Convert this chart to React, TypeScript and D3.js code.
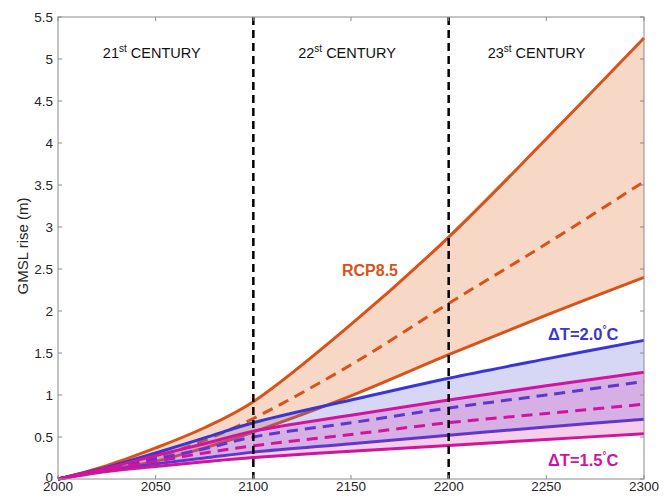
import React from 'react';
import * as d3 from 'd3';

// years sampled along the curves
const years = [2000, 2025, 2050, 2075, 2100, 2150, 2200, 2250, 2300];

// RCP8.5
const rcpUpper = [0, 0.16, 0.37, 0.61, 0.92, 1.84, 2.88, 4.05, 5.25];
const rcpMedian = [0, 0.12, 0.26, 0.46, 0.72, 1.36, 2.09, 2.8, 3.54];
const rcpLower = [0, 0.11, 0.21, 0.37, 0.56, 0.99, 1.48, 1.95, 2.4];

// dT = 2.0 C
const t20Upper = [0, 0.14, 0.31, 0.49, 0.67, 0.94, 1.2, 1.43, 1.65];
const t20Median = [0, 0.12, 0.24, 0.36, 0.5, 0.67, 0.845, 1.0, 1.16];
const t20Lower = [0, 0.1, 0.18, 0.25, 0.32, 0.42, 0.52, 0.62, 0.71];

// dT = 1.5 C
const t15Upper = [0, 0.13, 0.28, 0.42, 0.57, 0.76, 0.94, 1.11, 1.27];
const t15Median = [0, 0.11, 0.21, 0.31, 0.395, 0.53, 0.67, 0.78, 0.89];
const t15Lower = [0, 0.09, 0.15, 0.205, 0.255, 0.33, 0.4, 0.47, 0.54];

const xTicks = [2000, 2050, 2100, 2150, 2200, 2250, 2300];
const yTicks = [0, 0.5, 1, 1.5, 2, 2.5, 3, 3.5, 4, 4.5, 5, 5.5];
const centuryLines = [2100, 2200];
const centuries = [
  {label: '21', year: 2048},
  {label: '22', year: 2148},
  {label: '23', year: 2245},
];

const W = 671;
const H = 500;
const margin = {left: 58, right: 27, top: 17, bottom: 21};

const x = d3.scaleLinear().domain([2000, 2300]).range([margin.left, W - margin.right]);
const y = d3.scaleLinear().domain([0, 5.5]).range([H - margin.bottom, margin.top]);

const curve = d3.curveCatmullRom.alpha(0.5);

const line = d3.line<number>()
  .x((_, i) => x(years[i]))
  .y(d => y(d))
  .curve(curve);

const band = (lo: number[], hi: number[]) =>
  d3.area<number>()
    .x((_, i) => x(years[i]))
    .y0((_, i) => y(lo[i]))
    .y1(d => y(d))
    .curve(curve)(hi) as string;

const ORANGE = '#d95319';
const BLUE = '#3a35d4';
const MAGENTA = '#d0149e';
const FONT = '"Liberation Sans", Arial, sans-serif';

const Scenario = ({upper, median, lower, color, fill}: any) => (
  <g>
    <path d={band(lower, upper)} fill={fill} stroke="none" />
    <path d={line(upper) as string} fill="none" stroke={color} strokeWidth={3} />
    <path d={line(lower) as string} fill="none" stroke={color} strokeWidth={3} />
    <path d={line(median) as string} fill="none" stroke={color} strokeWidth={3} strokeDasharray="11,7" />
  </g>
);

export default function App() {
  const x0 = margin.left;
  const x1 = W - margin.right;
  const y0 = H - margin.bottom;
  const y1 = margin.top;
  return (
    <svg width={W} height={H} style={{position: 'absolute', left: 0, top: 0, background: '#fff'}}
         fontFamily={FONT}>
      <Scenario upper={rcpUpper} median={rcpMedian} lower={rcpLower} color={ORANGE}
                fill="rgba(233,140,90,0.35)" />
      <Scenario upper={t20Upper} median={t20Median} lower={t20Lower} color={BLUE}
                fill="rgba(90,90,215,0.25)" />
      <Scenario upper={t15Upper} median={t15Median} lower={t15Lower} color={MAGENTA}
                fill="rgba(215,60,180,0.25)" />

      {centuryLines.map(yr => (
        <line key={yr} x1={x(yr)} x2={x(yr)} y1={y1} y2={y0} stroke="#000" strokeWidth={2.5}
              strokeDasharray="8,5" />
      ))}

      {/* box */}
      <rect x={x0} y={y1} width={x1 - x0} height={y0 - y1} fill="none" stroke="#8c8c8c" strokeWidth={1} />
      {xTicks.map(t => (
        <g key={'x' + t}>
          <line x1={x(t)} x2={x(t)} y1={y0} y2={y0 - 4} stroke="#8c8c8c" />
          <line x1={x(t)} x2={x(t)} y1={y1} y2={y1 + 4} stroke="#8c8c8c" />
          <text x={x(t)} y={y0 + 12} textAnchor="middle" fontSize={13.5} fill="#262626">{t}</text>
        </g>
      ))}
      {yTicks.map(t => (
        <g key={'y' + t}>
          <line x1={x0} x2={x0 + 4} y1={y(t)} y2={y(t)} stroke="#8c8c8c" />
          <line x1={x1} x2={x1 - 4} y1={y(t)} y2={y(t)} stroke="#8c8c8c" />
          <text x={x0 - 5} y={t === 0 ? y(t) + 3 : y(t) + 4.5} textAnchor="end" fontSize={13.5}
                fill="#262626">{t}</text>
        </g>
      ))}
      <text transform={`translate(28,${(y0 + y1) / 2 - 2}) rotate(-90)`} textAnchor="middle" fontSize={15}
            fill="#262626">GMSL rise (m)</text>

      {centuries.map(c => (
        <text key={c.label} x={x(c.year)} y={57.5} textAnchor="middle" fontSize={14.5} fill="#111">
          {c.label}<tspan fontSize={10} dy={-5.5}>st</tspan><tspan dy={5.5}> CENTURY</tspan>
        </text>
      ))}

      <text x={370} y={276} textAnchor="middle" fontSize={16} fontWeight="bold" fill={ORANGE}>RCP8.5</text>
      <text x={548} y={340} fontSize={16.5} fontWeight="bold" fill={BLUE}>
        ΔT=2.0<tspan fontSize={10} dy={-7}>°</tspan><tspan dy={7}>C</tspan>
      </text>
      <text x={548} y={466} fontSize={16.5} fontWeight="bold" fill={MAGENTA}>
        ΔT=1.5<tspan fontSize={10} dy={-7}>°</tspan><tspan dy={7}>C</tspan>
      </text>
    </svg>
  );
}
